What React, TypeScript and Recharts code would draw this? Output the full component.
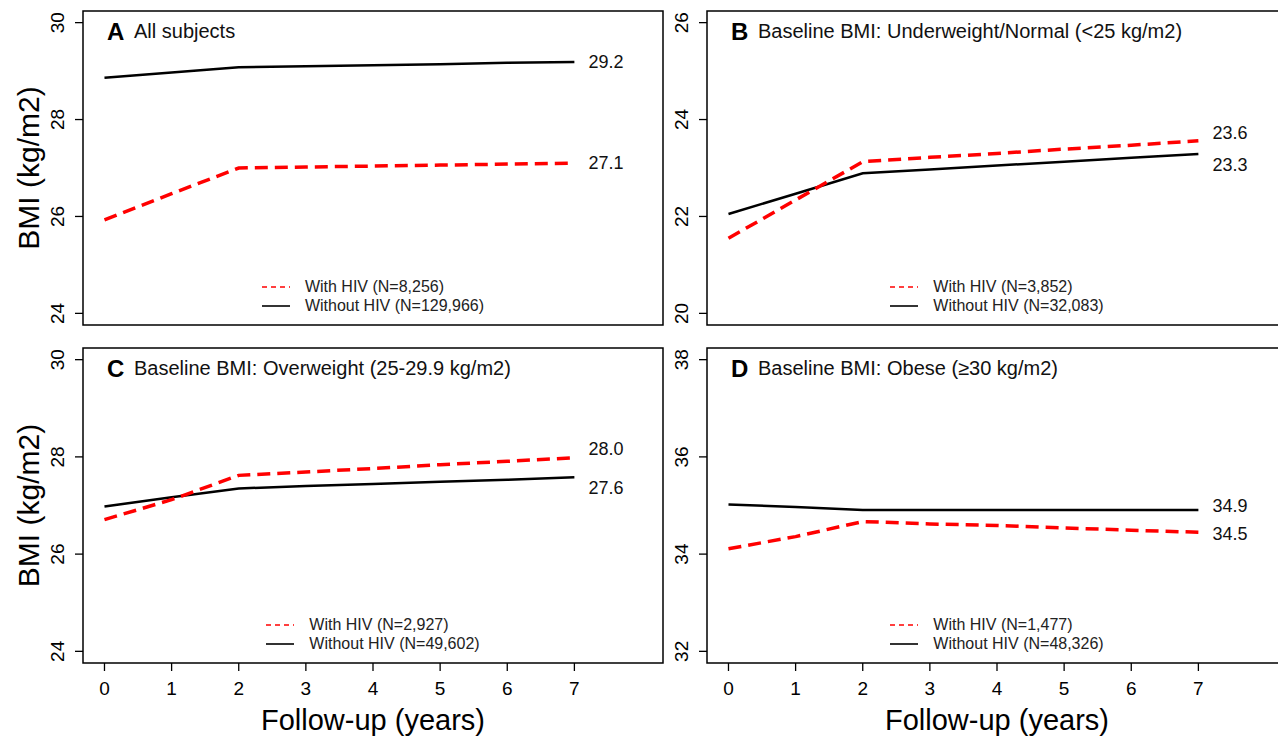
import React from 'react'
import {
  LineChart,
  Line,
  XAxis,
  YAxis,
  ReferenceArea,
  ReferenceDot,
  Legend,
  Label,
} from 'recharts'

// follow-up years
const years = [0, 1, 2, 3, 4, 5, 6, 7]
const xLimits = [0, 8]

// A: all subjects
const aHiv = [25.93, 26.47, 27.0, 27.02, 27.04, 27.06, 27.08, 27.1]
const aNoHiv = [28.86, 28.97, 29.08, 29.1, 29.12, 29.14, 29.17, 29.19]
// B: underweight / normal
const bHiv = [21.55, 22.34, 23.13, 23.22, 23.3, 23.39, 23.47, 23.56]
const bNoHiv = [22.05, 22.47, 22.89, 22.97, 23.05, 23.13, 23.21, 23.29]
// C: overweight
const cHiv = [26.71, 27.12, 27.62, 27.69, 27.76, 27.84, 27.91, 27.98]
const cNoHiv = [26.98, 27.17, 27.35, 27.4, 27.44, 27.49, 27.53, 27.58]
// D: obese
const dHiv = [34.11, 34.36, 34.67, 34.62, 34.59, 34.54, 34.49, 34.45]
const dNoHiv = [35.02, 34.97, 34.91, 34.91, 34.91, 34.91, 34.91, 34.91]

const aTicks = [24, 26, 28, 30]
const bTicks = [20, 22, 24, 26]
const cTicks = [24, 26, 28, 30]
const dTicks = [32, 34, 36, 38]

// end-of-line labels: [with HIV, without HIV] text and the y value they sit at
const aEndText = ['27.1', '29.2']
const aEndAt = [27.1, 29.18]
const bEndText = ['23.6', '23.3']
const bEndAt = [23.72, 23.06]
const cEndText = ['28.0', '27.6']
const cEndAt = [28.17, 27.37]
const dEndText = ['34.5', '34.9']
const dEndAt = [34.42, 35.0]

const aN = ['8,256', '129,966']
const bN = ['3,852', '32,083']
const cN = ['2,927', '49,602']
const dN = ['1,477', '48,326']

const RED = '#ff0000'
const FONT = '"Liberation Sans", Arial, Helvetica, sans-serif'

const PLOT_W = 580
const LEFT = 83
const TOP = 11
const CHART_W = LEFT + PLOT_W + 10

const pad = (lo: number, hi: number): [number, number] => {
  const d = (hi - lo) * 0.04
  return [lo - d, hi + d]
}

const RotTick = (p: any) => (
  <text
    x={p.x}
    y={p.y}
    transform={`rotate(-90 ${p.x} ${p.y})`}
    textAnchor="middle"
    fontSize={19}
    fill="#000"
    fontFamily={FONT}
  >
    {p.payload.value}
  </text>
)

interface PanelProps {
  letter: string
  title: string
  hiv: number[]
  noHiv: number[]
  yTicks: number[]
  endText: string[]
  endAt: number[]
  n: string[]
  showX: boolean
  showYTitle: boolean
  left: number
  top: number
}

function Panel({ letter, title, hiv, noHiv, yTicks, endText, endAt, n, showX, showYTitle, left, top }: PanelProps) {
  const data = years.map((y, i) => ({ year: y, hiv: hiv[i], noHiv: noHiv[i] }))
  const xDom = pad(xLimits[0], xLimits[1])
  const yDom = pad(yTicks[0], yTicks[yTicks.length - 1])
  const plotH = showX ? 315 : 314
  const height = TOP + plotH + (showX ? 74 : 2)
  const legendTop = TOP + plotH - 38 - 9.5

  const endLabel = (text: string) => (p: any) => {
    const vb = p.viewBox
    return (
      <text x={vb.x + 14} y={vb.y} dominantBaseline="central" fontSize={18} fill="#111" fontFamily={FONT}>
        {text}
      </text>
    )
  }

  return (
    <div style={{ position: 'absolute', left, top, width: CHART_W, height }}>
      <LineChart width={CHART_W} height={height} data={data} margin={{ top: TOP, right: 10, left: 0, bottom: showX ? 0 : 2 }}>
        <XAxis
          type="number"
          dataKey="year"
          domain={xDom}
          ticks={years}
          allowDataOverflow
          hide={!showX}
          height={74}
          axisLine={false}
          tickSize={8}
          tickMargin={11}
          tickLine={{ stroke: '#000', strokeWidth: 1.3 }}
          tick={{ fontSize: 19, fill: '#000', fontFamily: FONT }}
        >
          <Label
            content={(p: any) => {
              const vb = p.viewBox
              return (
                <text x={vb.x + vb.width / 2} y={vb.y + 57} textAnchor="middle" dominantBaseline="central" fontSize={29} fill="#000" fontFamily={FONT}>
                  Follow-up (years)
                </text>
              )
            }}
          />
        </XAxis>
        <YAxis
          type="number"
          domain={yDom}
          ticks={yTicks}
          allowDataOverflow
          width={LEFT}
          axisLine={false}
          tickSize={8}
          tickMargin={11}
          tickLine={{ stroke: '#000', strokeWidth: 1.3 }}
          tick={<RotTick />}
        >
          {showYTitle && (
            <Label
              content={(p: any) => {
                const vb = p.viewBox
                const cx = vb.x + 28
                const cy = vb.y + vb.height / 2
                return (
                  <text x={cx} y={cy} transform={`rotate(-90 ${cx} ${cy})`} textAnchor="middle" dominantBaseline="central" fontSize={30} fill="#000" fontFamily={FONT}>
                    BMI (kg/m2)
                  </text>
                )
              }}
            />
          )}
        </YAxis>
        <ReferenceArea
          x1={xDom[0]}
          x2={xDom[1]}
          y1={yDom[0]}
          y2={yDom[1]}
          fill="none"
          fillOpacity={0}
          stroke="#000"
          strokeWidth={1.5}
          ifOverflow="visible"
          label={(p: any) => {
            const vb = p.viewBox
            return (
              <g fontFamily={FONT}>
                <text x={vb.x + 24} y={vb.y + 20} dominantBaseline="central" fontSize={24} fontWeight="bold" fill="#000">
                  {letter}
                </text>
                <text x={vb.x + 51} y={vb.y + 20} dominantBaseline="central" fontSize={20} fill="#111">
                  {title}
                </text>
              </g>
            )
          }}
        />
        <Line type="linear" dataKey="noHiv" stroke="#000" strokeWidth={2.5} dot={false} isAnimationActive={false} />
        <Line type="linear" dataKey="hiv" stroke={RED} strokeWidth={3.5} strokeDasharray="13 7" dot={false} isAnimationActive={false} />
        <ReferenceDot x={years[years.length - 1]} y={endAt[0]} r={0} fill="none" stroke="none" label={endLabel(endText[0])} />
        <ReferenceDot x={years[years.length - 1]} y={endAt[1]} r={0} fill="none" stroke="none" label={endLabel(endText[1])} />
        <Legend
          layout="vertical"
          align="center"
          verticalAlign="middle"
          wrapperStyle={{ left: LEFT, top: legendTop, width: PLOT_W, height: 'auto' }}
          content={() => (
            <div style={{ display: 'flex', justifyContent: 'center', fontFamily: FONT }}>
              <div>
                {[
                  { dash: '5 4', color: RED, w: 1.4, text: `With HIV (N=${n[0]})` },
                  { dash: undefined, color: '#000', w: 1.6, text: `Without HIV (N=${n[1]})` },
                ].map((r) => (
                  <div key={r.text} style={{ display: 'flex', alignItems: 'center', height: 19 }}>
                    <svg width={28} height={6}>
                      <line x1={0} y1={3} x2={28} y2={3} stroke={r.color} strokeWidth={r.w} strokeDasharray={r.dash} />
                    </svg>
                    <span style={{ marginLeft: 15, fontSize: 16, color: '#222', whiteSpace: 'nowrap' }}>{r.text}</span>
                  </div>
                ))}
              </div>
            </div>
          )}
        />
      </LineChart>
    </div>
  )
}

export default function App() {
  return (
    <div
      style={{
        position: 'absolute',
        left: 0,
        top: 0,
        width: 1278,
        height: 737,
        overflow: 'hidden',
        background: '#fff',
        fontFamily: FONT,
      }}
    >
      <Panel letter="A" title="All subjects" hiv={aHiv} noHiv={aNoHiv} yTicks={aTicks} endText={aEndText} endAt={aEndAt} n={aN} showX={false} showYTitle left={0} top={0} />
      <Panel letter="B" title="Baseline BMI: Underweight/Normal (<25 kg/m2)" hiv={bHiv} noHiv={bNoHiv} yTicks={bTicks} endText={bEndText} endAt={bEndAt} n={bN} showX={false} showYTitle={false} left={624} top={0} />
      <Panel letter="C" title="Baseline BMI: Overweight (25-29.9 kg/m2)" hiv={cHiv} noHiv={cNoHiv} yTicks={cTicks} endText={cEndText} endAt={cEndAt} n={cN} showX showYTitle left={0} top={337} />
      <Panel letter="D" title="Baseline BMI: Obese (≥30 kg/m2)" hiv={dHiv} noHiv={dNoHiv} yTicks={dTicks} endText={dEndText} endAt={dEndAt} n={dN} showX showYTitle={false} left={624} top={337} />
    </div>
  )
}
